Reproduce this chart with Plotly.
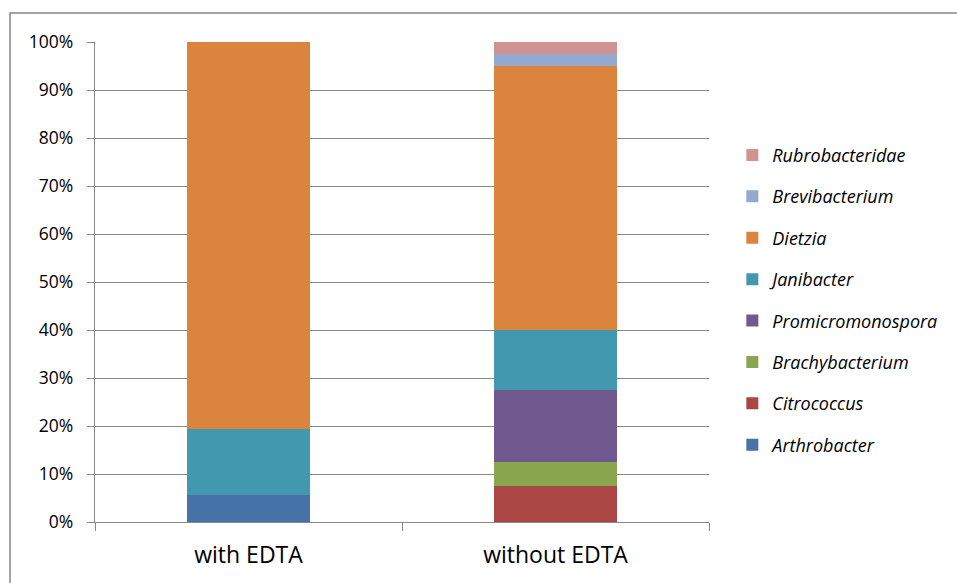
import plotly.graph_objects as go

categories = ["with EDTA", "without EDTA"]

# relative abundance (%) per genus for each treatment
arthrobacter = [5.56, 0.0]
citrococcus = [0.0, 7.5]
brachybacterium = [0.0, 5.0]
promicromonospora = [0.0, 15.0]
janibacter = [13.89, 12.5]
dietzia = [80.55, 55.0]
brevibacterium = [0.0, 2.5]
rubrobacteridae = [0.0, 2.5]

series = [
    ("Arthrobacter", arthrobacter, "#4572A7"),
    ("Citrococcus", citrococcus, "#AA4643"),
    ("Brachybacterium", brachybacterium, "#89A54E"),
    ("Promicromonospora", promicromonospora, "#71588F"),
    ("Janibacter", janibacter, "#4198AF"),
    ("Dietzia", dietzia, "#DB843D"),
    ("Brevibacterium", brevibacterium, "#93A9CF"),
    ("Rubrobacteridae", rubrobacteridae, "#D19392"),
]

fig = go.Figure()
n = len(series)
for i, (name, vals, color) in enumerate(series):
    fig.add_trace(go.Bar(
        x=categories,
        y=[v / 100 for v in vals],
        name=f"<i>{name}</i>",
        legendgroup=name,
        legendrank=n - i,  # top of the stack first in the legend
        marker=dict(color=color, line=dict(width=0)),
    ))

grid = "#898989"
fig.update_layout(
    barmode="stack",
    bargap=0.6,
    width=957,
    height=583,
    margin=dict(l=95, r=248, t=42, b=61),
    paper_bgcolor="white",
    plot_bgcolor="white",
    font=dict(family="Open Sans", color="#000000"),
    legend=dict(
        traceorder="grouped",
        tracegroupgap=15,
        x=1.038,
        xanchor="left",
        y=0.462,
        yanchor="middle",
        font=dict(size=18, family="Open Sans"),
        bgcolor="rgba(0,0,0,0)",
    ),
    xaxis=dict(
        showline=True,
        linecolor=grid,
        linewidth=1.3,
        ticks="outside",
        tickson="boundaries",
        ticklen=8,
        tickcolor=grid,
        tickwidth=1.3,
        tickfont=dict(size=23),
        ticklabelstandoff=12,
        showgrid=False,
    ),
    yaxis=dict(
        range=[0, 1],
        dtick=0.1,
        tickformat=".0%",
        showline=True,
        linecolor=grid,
        linewidth=1.3,
        ticks="outside",
        ticklen=7,
        tickcolor=grid,
        tickwidth=1.3,
        tickfont=dict(size=17.5),
        ticklabelstandoff=10,
        showgrid=True,
        gridcolor=grid,
        gridwidth=1.3,
        zeroline=False,
    ),
    shapes=[
        dict(
            type="rect",
            xref="paper",
            yref="paper",
            x0=-0.1384,
            x1=1.6,
            y0=-0.2,
            y1=1.0604,
            line=dict(color="#868686", width=1.5),
            fillcolor="rgba(0,0,0,0)",
            layer="below",
        )
    ],
)

fig.write_html("out.html")
